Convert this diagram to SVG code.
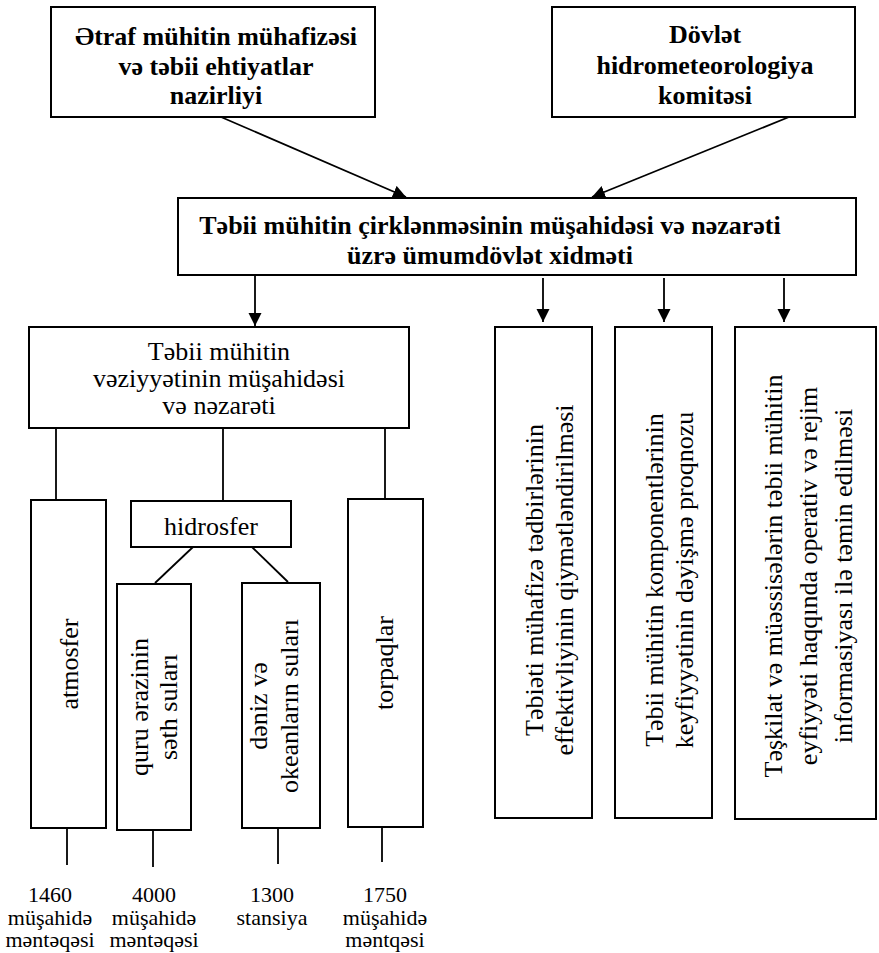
<svg xmlns="http://www.w3.org/2000/svg" width="879" height="953" viewBox="0 0 879 953" font-family="'Liberation Serif', Tinos, 'Times New Roman', Times, 'DejaVu Serif', serif">
<style>
.box{fill:#fff;stroke:#000;stroke-width:2}
.ln{fill:none;stroke:#000;stroke-width:1.8}
.b{font-family:'Liberation Serif',Tinos,'Times New Roman',Times,'DejaVu Serif',serif;font-weight:bold;font-size:26px;text-anchor:middle;fill:#000}
.r{font-family:'Liberation Serif',Tinos,'Times New Roman',Times,'DejaVu Serif',serif;font-size:26px;text-anchor:middle;fill:#000}
.s{font-family:'Liberation Serif',Tinos,'Times New Roman',Times,'DejaVu Serif',serif;font-size:22px;text-anchor:middle;fill:#000}
</style>
<defs>
<marker id="ah" markerUnits="userSpaceOnUse" markerWidth="14" markerHeight="14" refX="13" refY="6.5" orient="auto">
<path d="M0,0 L13,6.5 L0,13 z" fill="#000"/>
</marker>
</defs>
<rect width="879" height="953" fill="#fff"/>
<g id="connectors">
<line class="ln" x1="221" y1="117" x2="406" y2="197" marker-end="url(#ah)"/>
<line class="ln" x1="789" y1="117" x2="592" y2="197" marker-end="url(#ah)"/>
<line class="ln" x1="255" y1="275" x2="255" y2="326" marker-end="url(#ah)"/>
<line class="ln" x1="543" y1="278" x2="543" y2="322" marker-end="url(#ah)"/>
<line class="ln" x1="664" y1="278" x2="664" y2="322" marker-end="url(#ah)"/>
<line class="ln" x1="784" y1="278" x2="784" y2="322" marker-end="url(#ah)"/>
<line class="ln" x1="56" y1="428" x2="56" y2="500"/>
<line class="ln" x1="223" y1="428" x2="223" y2="501"/>
<line class="ln" x1="385" y1="428" x2="385" y2="499"/>
<line class="ln" x1="193" y1="547" x2="155" y2="583"/>
<line class="ln" x1="252" y1="547" x2="288" y2="582"/>
<line class="ln" x1="67" y1="828" x2="67" y2="865"/>
<line class="ln" x1="153" y1="830" x2="153" y2="867"/>
<line class="ln" x1="278" y1="829" x2="278" y2="864"/>
<line class="ln" x1="382" y1="827" x2="382" y2="862"/>
</g>
<g id="ministry">
<rect class="box" x="51" y="7" width="324" height="110"/>
<text class="b" x="216" y="45">Ətraf mühitin mühafizəsi</text>
<text class="b" x="216" y="75">və təbii ehtiyatlar</text>
<text class="b" x="216" y="104">nazirliyi</text>
</g>
<g id="committee">
<rect class="box" x="552" y="7" width="303" height="110"/>
<text class="b" x="705" y="43">Dövlət</text>
<text class="b" x="705" y="74">hidrometeorologiya</text>
<text class="b" x="705" y="104">komitəsi</text>
</g>
<g id="service">
<rect class="box" x="178" y="198" width="678" height="77"/>
<text class="b" x="490" y="234">Təbii mühitin çirklənməsinin müşahidəsi və nəzarəti</text>
<text class="b" x="490" y="264">üzrə ümumdövlət xidməti</text>
</g>
<g id="monitoring">
<rect class="box" x="29" y="327" width="380" height="101"/>
<text class="r" x="219" y="360">Təbii mühitin</text>
<text class="r" x="219" y="387">vəziyyətinin müşahidəsi</text>
<text class="r" x="219" y="414">və nəzarəti</text>
</g>
<g id="atmosfer">
<rect class="box" x="31" y="500" width="75" height="328"/>
<text class="r" transform="translate(78,664) rotate(-90)">atmosfer</text>
</g>
<g id="hidrosfer">
<rect class="box" x="131" y="501" width="160" height="46"/>
<text class="r" x="211" y="535">hidrosfer</text>
</g>
<g id="quru">
<rect class="box" x="117" y="584" width="74" height="246"/>
<text class="r" transform="translate(148,707) rotate(-90)">quru ərazinin</text>
<text class="r" transform="translate(177,707) rotate(-90)">səth suları</text>
</g>
<g id="deniz">
<rect class="box" x="242" y="583" width="78" height="245"/>
<text class="r" transform="translate(267,706) rotate(-90)">dəniz və</text>
<text class="r" transform="translate(298,706) rotate(-90)">okeanların suları</text>
</g>
<g id="torpaqlar">
<rect class="box" x="348" y="499" width="75" height="328"/>
<text class="r" transform="translate(393,663) rotate(-90)">torpaqlar</text>
</g>
<g id="effektivlik">
<rect class="box" x="495" y="327" width="97" height="491"/>
<text class="r" transform="translate(543,580) rotate(-90)">Təbiəti mühafizə tədbirlərinin</text>
<text class="r" transform="translate(573,580) rotate(-90)">effektivliyinin qiymətləndirilməsi</text>
</g>
<g id="proqnoz">
<rect class="box" x="615" y="327" width="97" height="491"/>
<text class="r" transform="translate(663,580) rotate(-90)">Təbii mühitin komponentlərinin</text>
<text class="r" transform="translate(693,580) rotate(-90)">keyfiyyətinin dəyişmə proqnozu</text>
</g>
<g id="informasiya">
<rect class="box" x="735" y="327" width="141" height="492"/>
<text class="r" transform="translate(782,576) rotate(-90)">Təşkilat və müəssisələrin təbii mühitin</text>
<text class="r" transform="translate(817,576) rotate(-90)">eyfiyyəti haqqında operativ və rejim</text>
<text class="r" transform="translate(852,576) rotate(-90)">informasiyası ilə təmin edilməsi</text>
</g>
<g id="label1460">
<text class="s" x="50" y="902">1460</text>
<text class="s" x="50" y="925">müşahidə</text>
<text class="s" x="50" y="947">məntəqəsi</text>
</g>
<g id="label4000">
<text class="s" x="154" y="902">4000</text>
<text class="s" x="154" y="925">müşahidə</text>
<text class="s" x="154" y="947">məntəqəsi</text>
</g>
<g id="label1300">
<text class="s" x="272" y="902">1300</text>
<text class="s" x="272" y="925">stansiya</text>
</g>
<g id="label1750">
<text class="s" x="385" y="902">1750</text>
<text class="s" x="385" y="925">müşahidə</text>
<text class="s" x="385" y="947">məntqəsi</text>
</g>
</svg>
